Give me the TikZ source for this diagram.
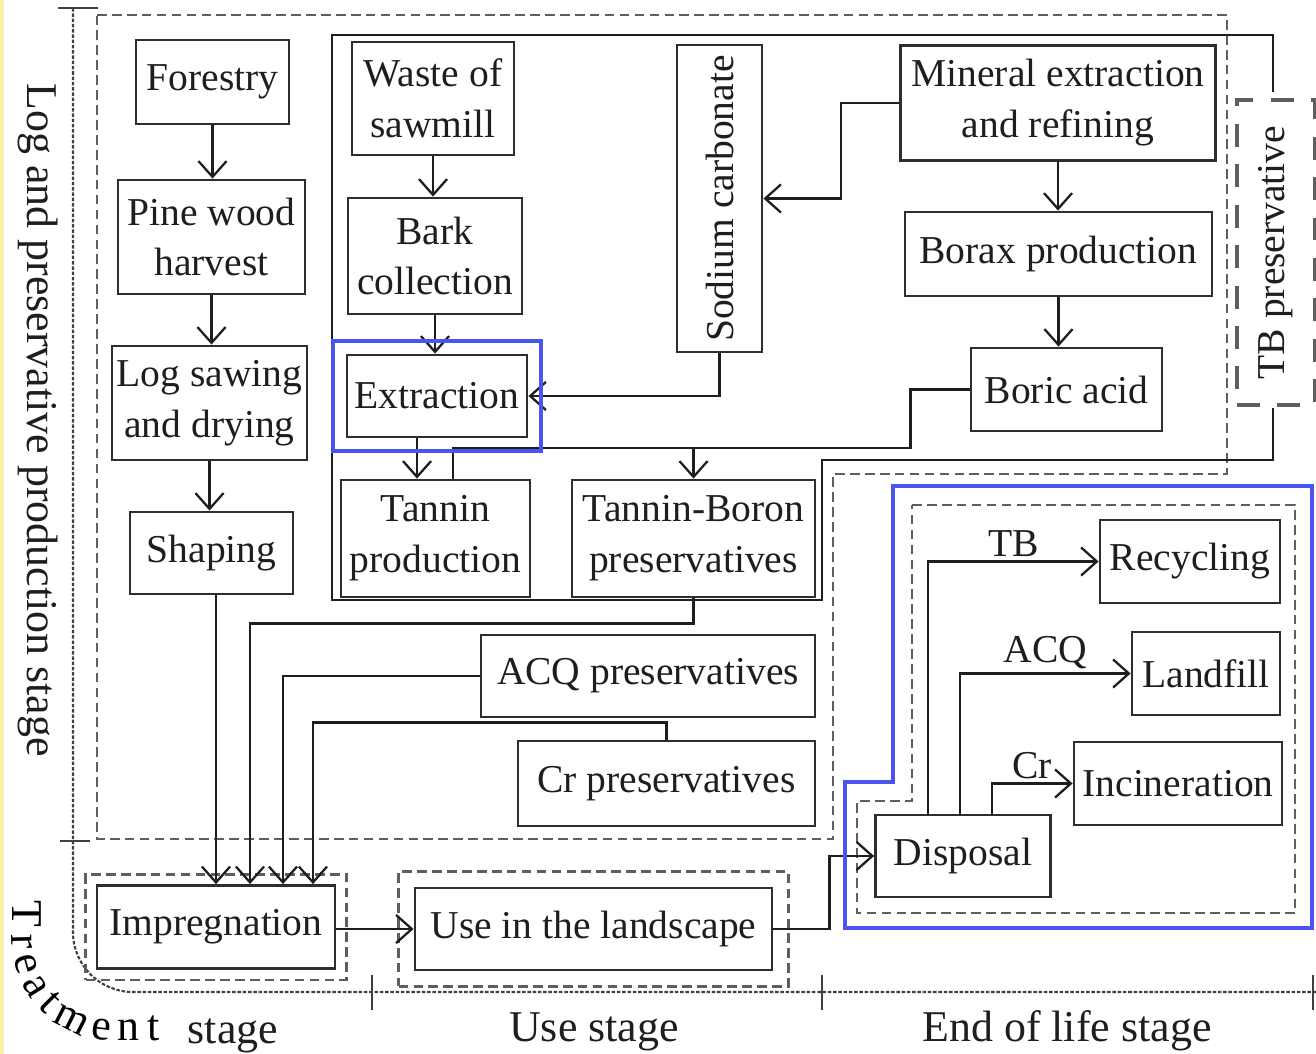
\documentclass[tikz,border=0pt]{standalone}
\usepackage{fontspec}
\setmainfont{Liberation Serif}
\usepackage{graphicx}
\usepackage{tikz}
\usetikzlibrary{
  arrows.meta,
  positioning,
  calc,
  fit,
  decorations.text,
}
\definecolor{ink}{HTML}{1E1E1E}
\definecolor{boxline}{HTML}{2E2E2E}
\definecolor{zone}{HTML}{5E5E5E}
\definecolor{hlblue}{HTML}{4A55F0}
\definecolor{pageedge}{HTML}{F6F3A8}
\newcommand{\boxfont}{\fontsize{22.5}{29}\selectfont}
\newcommand{\stagefont}{\fontsize{25}{30}\selectfont}
\tikzset{
  >={Straight Barb[length=9pt,width=16pt]},
  every node/.append style={text=ink},
  proc/.style 2 args={
    draw=boxline,
    line width=1.6pt,
    fill=white,
    align=center,
    inner sep=0pt,
    font=\boxfont,
    minimum width=#1*0.02cm,
    minimum height=#2*0.02cm,
  },
  flow/.style={draw=ink, line width=1.3pt},
  zoneline/.style={draw=zone, line width=1.6pt, dash pattern=on 5.5pt off 3pt},
  groupframe/.style={zoneline, inner sep=#1},
  tbframe/.style={draw=zone, line width=2.2pt, dash pattern=on 13pt off 10pt},
  axisline/.style={draw=ink!85, line width=1.2pt, dash pattern=on 2pt off 1pt},
  tickline/.style={draw=ink!85, line width=1.6pt},
  highlight/.style={draw=hlblue, line width=2.3pt},
  stagelabel/.style={font=\stagefont, inner sep=0pt},
  flowlabel/.style={font=\boxfont, inner sep=2pt},
}

\begin{document}
\begin{tikzpicture}[x=0.02cm, y=-0.02cm]
  \useasboundingbox (0,0) rectangle (1316,1054);
  \fill[pageedge] (0,0) rectangle (4,1054);

  % stage zones
  \draw[zoneline] (97,15) -- (1227,15) -- (1227,474) -- (833,474) -- (833,839) -- (97,839) -- cycle;
  \draw[zoneline] (912,505) -- (1295,505) -- (1295,913) -- (857,913) -- (857,801) -- (912,801) -- cycle;

  % stage axis
  \draw[axisline] (73,8) -- (73,932) arc[start angle=180, end angle=90, radius=60] -- (1316,992);
  \draw[tickline] (58,8) -- (98,8);
  \draw[tickline] (60,841) -- (90,841);
  \foreach \tx in {372,822,1313} {
    \draw[tickline] (\tx,975) -- (\tx,1010);
  }

  % preservative group outline
  \draw[flow] (1273,92) -- (1273,35) -- (332,35) -- (332,600) -- (822,600) -- (822,460) -- (1273,460) -- (1273,408);
  \node[tbframe, minimum width=1.56cm, minimum height=6.1cm, inner sep=0pt] (tbgroup) at (1276,252.5)
    {\rotatebox{90}{\boxfont TB preservative}};

  % wood line
  \node[proc={153}{84}] (forestry) at (212.5,82) {Forestry};
  \node[proc={187}{114}] (pine) at (211.5,237) {Pine wood\\harvest};
  \node[proc={195}{114}] (logsaw) at (209.5,403) {Log sawing\\and drying};
  \node[proc={163}{82}] (shaping) at (211.5,553) {Shaping};

  % tannin line
  \node[proc={162}{113}] (waste) at (433,98.5) {Waste of\\sawmill};
  \node[proc={174}{116}] (bark) at (435,256) {Bark\\collection};
  \node[proc={180}{82}] (extraction) at (437,396) {Extraction};
  \node[proc={189}{117}] (tannin) at (435.5,538.5) {Tannin\\production};
  \node[proc={85}{307}] (sodium) at (719.5,198.5) {\rotatebox{90}{Sodium carbonate}};

  % boron line
  \node[proc={315}{115}] (mineral) at (1058,103) {Mineral extraction\\and refining};
  \node[proc={307}{84}] (borax) at (1058.5,254) {Borax production};
  \node[proc={191}{83}] (boric) at (1066.5,389.5) {Boric acid};
  \node[proc={243}{117}] (tbpres) at (693.5,538.5) {Tannin-Boron\\preservatives};

  % other preservatives
  \node[proc={334}{82}] (acq) at (648,676) {ACQ preservatives};
  \node[proc={297}{85}] (cr) at (666.5,783.5) {Cr preservatives};

  % treatment and use
  \node[proc={238}{83}] (impreg) at (216,927) {Impregnation};
  \node[proc={357}{82}] (use) at (593.5,929) {Use in the landscape};
  \node[groupframe=0.2cm, fit=(impreg)] (impframe) {};
  \node[groupframe=0.3cm, fit=(use)] (useframe) {};

  % end of life
  \node[proc={175}{82}] (disposal) at (963,856) {Disposal};
  \node[proc={180}{83}] (recycling) at (1190,561.5) {Recycling};
  \node[proc={148}{83}] (landfill) at (1206,673.5) {Landfill};
  \node[proc={208}{83}] (incin) at (1178,783.5) {Incineration};

  % connectors
  \draw[flow,->] (forestry.south) -- (forestry.south |- pine.north);
  \draw[flow,->] (pine.south) -- (pine.south |- logsaw.north);
  \draw[flow,->] (logsaw.south) -- (logsaw.south |- shaping.north);
  \draw[flow,->] (shaping.south -| impreg.north) -- (impreg.north);

  \draw[flow,->] (waste.south) -- (waste.south |- bark.north);
  \draw[flow,->] (bark.south) -- (bark.south |- extraction.north);
  \draw[flow,->] ([xshift=-0.4cm]extraction.south) -- ([xshift=-0.4cm]extraction.south |- tannin.north);
  \draw[flow,->] (mineral.west) -- ++(-58,0) |- (sodium.east);
  \draw[flow,->] (sodium.south) |- (extraction.east);

  \draw[flow,->] (mineral.south) -- (mineral.south |- borax.north);
  \draw[flow,->] (borax.south) -- (borax.south |- boric.north);

  \coordinate (tbjoin) at (693.5,448);
  \draw[flow] ([xshift=0.35cm]tannin.north) |- (tbjoin);
  \draw[flow] (boric.west) -- ++(-59,0) |- (tbjoin);
  \draw[flow,->] (tbjoin) -- (tbpres.north);

  \draw[flow,->] (tbpres.south) -- ++(0,25) -| ([xshift=0.68cm]impreg.north);
  \draw[flow,->] (acq.west) -| ([xshift=1.34cm]impreg.north);
  \draw[flow,->] (cr.north) -- ++(0,-17) -| ([xshift=1.94cm]impreg.north);

  \draw[flow,->] ([yshift=-0.04cm]impreg.east) -- ([yshift=-0.04cm]impreg.east -| use.west);
  \draw[flow,->] (use.east) -- ++(56,0) |- (disposal.west);

  \draw[flow,->] ([xshift=-0.7cm]disposal.north) |- (recycling.west) node[flowlabel, pos=0.75, above] {TB};
  \draw[flow,->] ([xshift=-0.06cm]disposal.north) |- (landfill.west) node[flowlabel, pos=0.75, above] {ACQ};
  \draw[flow,->] ([xshift=0.58cm]disposal.north) |- (incin.west) node[flowlabel, pos=0.75, above] {Cr};

  % highlights
  \node[highlight, fit=(extraction), inner sep=0.26cm] (exthl) {};
  \draw[highlight] (893,486) -- (1312,486) -- (1312,928) -- (845,928) -- (845,782) -- (893,782) -- cycle;

  % stage labels
  \node[stagelabel, rotate=-90] (lpstage) at (38,420) {Log and preservative production stage};
  \node[stagelabel, anchor=base] (usestage) at (594,1041) {Use stage};
  \node[stagelabel, anchor=base] (eolstage) at (1067,1041) {End of life stage};
  \node[stagelabel, anchor=base] (trstage) at (233,1043) {stage};
  \path[decorate, decoration={text along path, text align=fit to path, text={|\stagefont|Treatment}}]
    (12,900) -- (12,940) arc[start angle=180, end angle=90, radius=100] -- (160,1040);
\end{tikzpicture}
\end{document}
